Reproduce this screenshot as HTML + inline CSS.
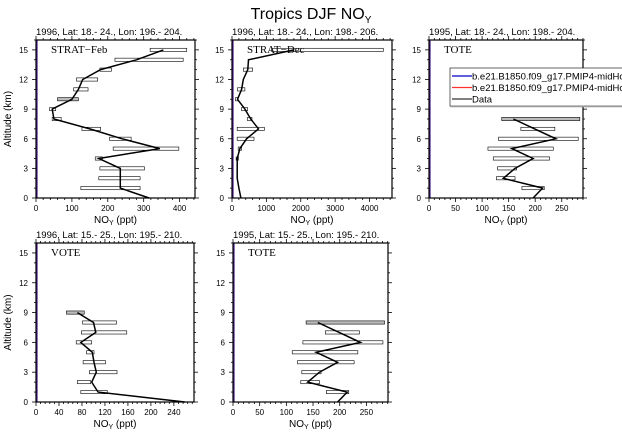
<!DOCTYPE html>
<html><head><meta charset="utf-8">
<style>
body{margin:0;background:#fff;}
svg{display:block;font-family:"Liberation Sans",Arial,sans-serif;}
</style></head>
<body>
<svg id="chart" width="622" height="436" viewBox="0 0 622 436" xmlns="http://www.w3.org/2000/svg">
<text x="311" y="19" font-size="16" text-anchor="middle">Tropics DJF NO<tspan font-size="10" dy="4">Y</tspan></text>
</svg>
<script>
// altitudes (km)
const altA = [15,14,13,12,11,10,9,8,7,6,5,4,3,2,1,0];
// Panel 1: STRAT-Feb
const p1Vals = [355,280,180,130,118,100,45,50,150,240,345,175,235,235,235,315];
const p1Lo   = [318,220,178,113,105,60,38,45,128,205,215,165,178,175,125,null];
const p1Hi   = [420,410,210,172,145,118,55,70,180,265,398,185,302,290,290,null];
// Panel 2: STRAT-Dec
const p2Vals = [1800,480,460,330,280,160,375,545,770,425,230,150,150,150,200,260];
const p2Lo   = [1150,null,330,null,160,100,280,450,150,150,180,120,null,null,null,null];
const p2Hi   = [4400,null,600,null,375,170,450,580,940,640,280,190,null,null,null,null];
// TOTE 1995
const altT = [8,7,6,5,4,3,2,1,0];
const tVals = [159,199,239,156,196,162,140,214,196];
const tLo   = [137,173,131,111,121,129,127,175,null];
const tHi   = [284,237,281,234,227,165,162,217,null];
// VOTE 1996
const altV = [9,8,7,6,5,4,3,2,1,0];
const vVals = [72,100,104,78,98,101,105,97,108,259];
const vLo   = [53,81,79,70,88,82,93,72,78,null];
const vHi   = [84,140,158,97,101,121,141,95,124,null];
const yTicks = [0,3,6,9,12,15];

const NS='http://www.w3.org/2000/svg';
const svg=document.getElementById('chart');
function mk(tag,attrs,parent){const e=document.createElementNS(NS,tag);for(const k in attrs)e.setAttribute(k,attrs[k]);(parent||svg).appendChild(e);return e;}

const panels=[
 {id:'strat-feb',x0:36,x1:195,y0:40,y1:198,xmax:443,xmaj:100,xmin:20,label:'STRAT\u2212Feb',sub:'1996, Lat: 18.- 24., Lon: 196.- 204.',alt:altA,v:p1Vals,lo:p1Lo,hi:p1Hi,gray:[5],ytitle:true},
 {id:'strat-dec',x0:232,x1:392,y0:40,y1:198,xmax:4654,xmaj:1000,xmin:200,label:'STRAT\u2212Dec',sub:'1996, Lat: 18.- 24., Lon: 198.- 206.',alt:altA,v:p2Vals,lo:p2Lo,hi:p2Hi,gray:[]},
 {id:'tote-top',x0:429,x1:583,y0:40,y1:198,xmax:290,xmaj:50,xmin:10,label:'TOTE',sub:'1995, Lat: 18.- 24., Lon: 198.- 204.',alt:altT,v:tVals,lo:tLo,hi:tHi,gray:[0]},
 {id:'vote',x0:36,x1:194,y0:243,y1:402,xmax:275,xmaj:40,xmin:8,label:'VOTE',sub:'1996, Lat: 15.- 25., Lon: 195.- 210.',alt:altV,v:vVals,lo:vLo,hi:vHi,gray:[0],ytitle:true},
 {id:'tote-bottom',x0:233,x1:388,y0:243,y1:402,xmax:290.5,xmaj:50,xmin:10,label:'TOTE',sub:'1995, Lat: 15.- 25., Lon: 195.- 210.',alt:altT,v:tVals,lo:tLo,hi:tHi,gray:[0]}
];

panels.forEach(p=>{
 const g=mk('g',{});
 
 
 const X=v=>p.x0+(v/p.xmax)*(p.x1-p.x0);
 const Y=a=>p.y1-(a/16)*(p.y1-p.y0);
 // ticks
 for(let v=0;v<=p.xmax+1e-9;v+=p.xmin){
  const maj=Math.abs(v/p.xmaj-Math.round(v/p.xmaj))<1e-6;const L=maj?4:2;
  mk('line',{x1:X(v),x2:X(v),y1:p.y0,y2:p.y0-L,stroke:'#000','stroke-width':0.8},g);
  mk('line',{x1:X(v),x2:X(v),y1:p.y1,y2:p.y1+L,stroke:'#000','stroke-width':0.8},g);
  if(maj){const t=mk('text',{x:X(v),y:p.y1+13,'font-size':8,'text-anchor':'middle'},g);t.textContent=Math.round(v);
   }
 }
 for(let a=0;a<=16;a++){
  const maj=a%3===0;const L=maj?4:2;
  mk('line',{x1:p.x0,x2:p.x0-L,y1:Y(a),y2:Y(a),stroke:'#000','stroke-width':0.8},g);
  mk('line',{x1:p.x1,x2:p.x1+L,y1:Y(a),y2:Y(a),stroke:'#000','stroke-width':0.8},g);
 }
 yTicks.forEach(a=>{const t=mk('text',{x:p.x0-8,y:Y(a)+3,'font-size':8,'text-anchor':'end'},g);t.textContent=a;
  });
 // model lines at 0 (blue+red overlap -> purple)
 const ml=mk('line',{x1:p.x0+0.8,x2:p.x0+0.8,y1:p.y0,y2:p.y1,stroke:'#4a1a8a','stroke-width':1.6},g);
 
 // error bars
 p.alt.forEach((a,i)=>{
  if(p.lo[i]==null)return;
  const r=mk('rect',{x:X(p.lo[i]),y:Y(a)-1.6,width:X(p.hi[i])-X(p.lo[i]),height:3.2,fill:p.gray.includes(i)?'#bbb':'#fff',stroke:'#000','stroke-width':0.6},g);
  
 });
 // data line
 const pts=p.alt.map((a,i)=>X(p.v[i]).toFixed(1)+','+Y(a).toFixed(1)).join(' ');
 const pl=mk('polyline',{points:pts,fill:'none',stroke:'#000','stroke-width':1.5},g);
 
 // frame
 const fr=mk('rect',{x:p.x0,y:p.y0,width:p.x1-p.x0,height:p.y1-p.y0,fill:'none',stroke:'#000','stroke-width':1.2},g);
 
 // labels
 const lb=mk('text',{x:p.x0+15,y:p.y0+13,'font-size':11,'font-family':'"Liberation Serif",serif'},g);lb.textContent=p.label;
 
 const sb=mk('text',{x:p.x0,y:p.y0-5,'font-size':9.5},g);sb.textContent=p.sub;
 
 const xt=mk('text',{x:(p.x0+p.x1)/2,y:p.y1+25,'font-size':10,'text-anchor':'middle'},g);
 xt.innerHTML='NO<tspan font-size="7" dy="2">Y</tspan><tspan dy="-2"> (ppt)</tspan>';
 
 if(p.ytitle){const yt=mk('text',{x:0,y:0,'font-size':10,'text-anchor':'middle',transform:`translate(11,${(p.y0+p.y1)/2}) rotate(-90)`},g);yt.textContent='Altitude (km)';
  }
});

// legend
const lg=mk('g',{});


mk('rect',{x:450,y:68,width:180,height:38,fill:'#fff',stroke:'#000','stroke-width':0.6},lg);
mk('line',{x1:450,x2:630,y1:106.5,y2:106.5,stroke:'#999','stroke-width':1.5},lg);
const items=[['#0000cc','b.e21.B1850.f09_g17.PMIP4-midHolo'],['#ff3030','b.e21.B1850.f09_g17.PMIP4-midHolo'],['#333','Data']];
items.forEach((it,i)=>{
 const y=76+i*11.5;
 const e=mk('g',{},lg);
 
 
 mk('line',{x1:452,x2:472,y1:y,y2:y,stroke:it[0],'stroke-width':1.3},e);
 const t=mk('text',{x:472,y:y+3.5,'font-size':9.5},e);t.textContent=it[1];
});
</script>
</body></html>
